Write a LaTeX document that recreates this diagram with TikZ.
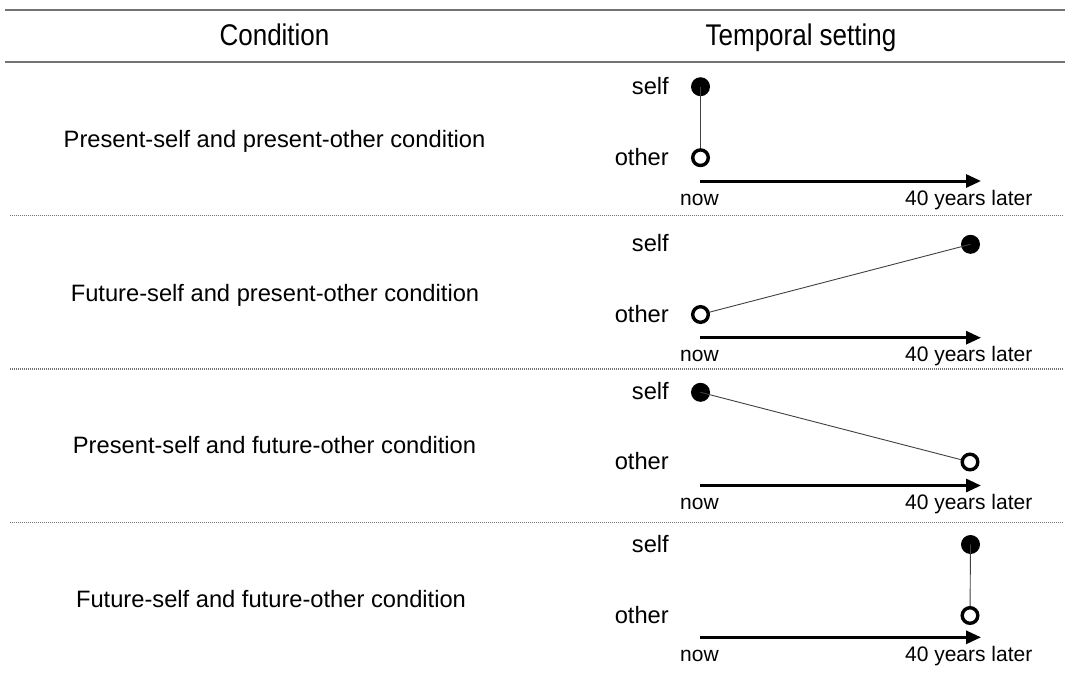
\documentclass[tikz,border=0pt]{standalone}
\usepackage{fontspec}
\setmainfont{Liberation Sans}
\usetikzlibrary{arrows.meta}
\newcommand{\hdr}[1]{\scalebox{1}[1.15]{\fontsize{26}{30}\selectfont #1}}
\newcommand{\bdy}[1]{{\fontsize{23.7}{28}\selectfont #1}}
\newcommand{\sml}[1]{{\fontsize{21}{25}\selectfont #1}}
\tikzset{
  rule/.style={line width=1.8pt, black!55},
  sep/.style={line width=1.2pt, black!55, dash pattern=on 1pt off 1pt},
  lbl/.style={inner sep=0pt, anchor=base},
  selfdot/.style={circle, fill=black, minimum size=19pt, inner sep=0pt},
  otherdot/.style={circle, draw=black, line width=3.4pt, fill=white, minimum size=15.6pt, inner sep=0pt},
  link/.style={line width=0.9pt, black!75},
  timeline/.style={line width=3pt, -{Triangle[length=15pt, width=13pt]}},
}
\begin{document}
\begin{tikzpicture}[x=1pt, y=-1pt]
\useasboundingbox (0,0) rectangle (1068,673);
% rules
\coordinate (t1) at (5,10); \coordinate (t2) at (1065,10);
\coordinate (h1) at (5,62); \coordinate (h2) at (1065,62);
\draw[rule] (t1) -- (t2);
\draw[rule] (h1) -- (h2);
\foreach \y [count=\i] in {215.3,369,522.7} {
  \coordinate (s\i a) at (10,\y); \coordinate (s\i b) at (1063,\y);
  \draw[sep] (s\i a) -- (s\i b);
}
% header
\node[lbl] (hc) at (274.5,45) {\hdr{Condition}};
\node[lbl] (ht) at (801,45) {\hdr{Temporal setting}};
% condition texts
\node[lbl] (c1) at (274.5,147.5) {\bdy{Present-self and present-other condition}};
\node[lbl] (c2) at (275,301.5) {\bdy{Future-self and present-other condition}};
\node[lbl] (c3) at (274.5,453.5) {\bdy{Present-self and future-other condition}};
\node[lbl] (c4) at (271,607.5) {\bdy{Future-self and future-other condition}};
% panels: selfY otherY arrowY selfX otherX
\foreach \sy/\oy/\ay/\sx/\ox [count=\i] in {
  86.7/157.7/181/700.5/700.5,
  244.3/314.5/337.7/970.5/700.5,
  392.3/462/485.5/700.5/970,
  544.5/615.5/637.3/970.5/970} {
  \node[lbl, anchor=base east] (ls\i) at (669,\sy+7.5) {\bdy{self}};
  \node[lbl, anchor=base east] (lo\i) at (669,\oy+7.5) {\bdy{other}};
  \coordinate (a\i s) at (700,\ay);
  \coordinate (a\i e) at (981,\ay);
  \draw[timeline] (a\i s) -- (a\i e);
  \node[lbl] (now\i) at (699.5,\ay+24) {\sml{now}};
  \node[lbl, anchor=base east] (lat\i) at (1032.5,\ay+24) {\sml{40 years later}};
  \node[selfdot] (sd\i) at (\sx,\sy) {};
  \draw[link] (sd\i.center) -- (\ox,\oy) node[otherdot] (od\i) {};
}
\end{tikzpicture}
\end{document}
